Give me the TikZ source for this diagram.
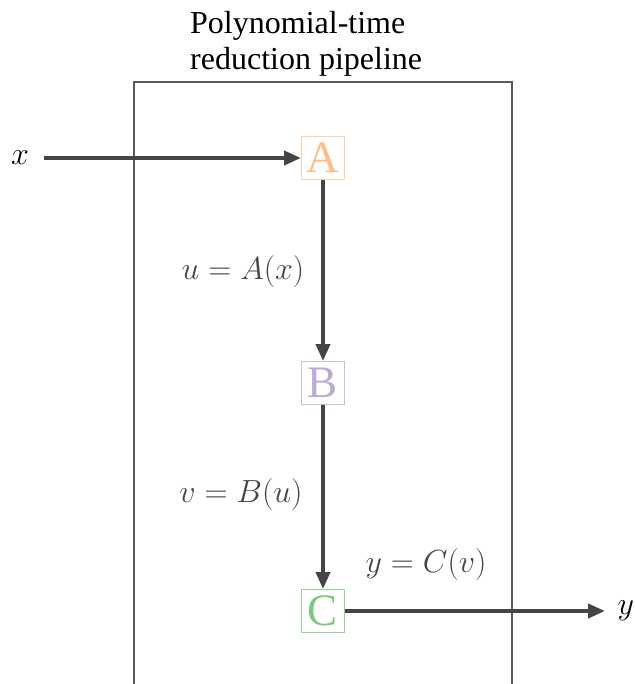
\RequirePackage{fix-cm}
\documentclass[tikz,border=0pt]{standalone}
\usepackage{fontspec}
\setmainfont{Liberation Serif}
\usepackage{tikz}
\usetikzlibrary{positioning,arrows.meta}
\definecolor{edgegray}{RGB}{69,69,69}
\definecolor{framegray}{RGB}{90,90,90}
\definecolor{stageAtext}{RGB}{255,190,135}
\definecolor{stageAline}{RGB}{255,208,172}
\definecolor{stageBtext}{RGB}{190,170,215}
\definecolor{stageBline}{RGB}{202,188,228}
\definecolor{stageCtext}{RGB}{125,200,125}
\definecolor{stageCline}{RGB}{145,212,145}
\tikzstyle{stage} = [rectangle, minimum size=43pt, inner sep=0pt, line width=1pt, font=\fontsize{45}{45}\selectfont]
\tikzstyle{maplabel} = [text=edgegray, font=\fontsize{32}{34}\selectfont]
\tikzstyle{iolabel} = [text=black, font=\fontsize{32}{32}\selectfont]
\tikzstyle{arrow} = [line width=4pt, draw=edgegray, -{Triangle[length=17pt,width=14pt]}]

\begin{document}
\begin{tikzpicture}[x=1pt,y=-1pt]
\useasboundingbox (0,0) rectangle (634,684);

% pipeline frame (open at the bottom)
\draw [framegray, line width=1.5pt] (134,700) -- (134,82) -- (512,82) -- (512,700);
\node (title) [anchor=north west, inner sep=0pt, align=left, font=\rmfamily\fontsize{32}{36}\selectfont] at (190,11) {Polynomial-time\\reduction pipeline};

\node (A) [stage, draw=stageAline, text=stageAtext] at (323,158) {A};
\node (B) [stage, draw=stageBline, text=stageBtext, below=181pt of A] {B};
\node (C) [stage, draw=stageCline, text=stageCtext, below=184pt of B] {C};

\node (in) [iolabel] at (20,158) {$x$};
\node (out) [iolabel, right=269pt of C] {$y$};

\node (ua) [maplabel] at (243,272) {$u = A(x)$};
\node (vb) [maplabel] at (241,494) {$v = B(u)$};
\node (yc) [maplabel] at (426,564) {$y = C(v)$};

\draw [arrow, shorten <=12pt] (in) -- (A);
\draw [arrow] (A) -- (B);
\draw [arrow] (B) -- (C);
\draw [arrow, shorten >=9pt] (C) -- (out);

\end{tikzpicture}
\end{document}
